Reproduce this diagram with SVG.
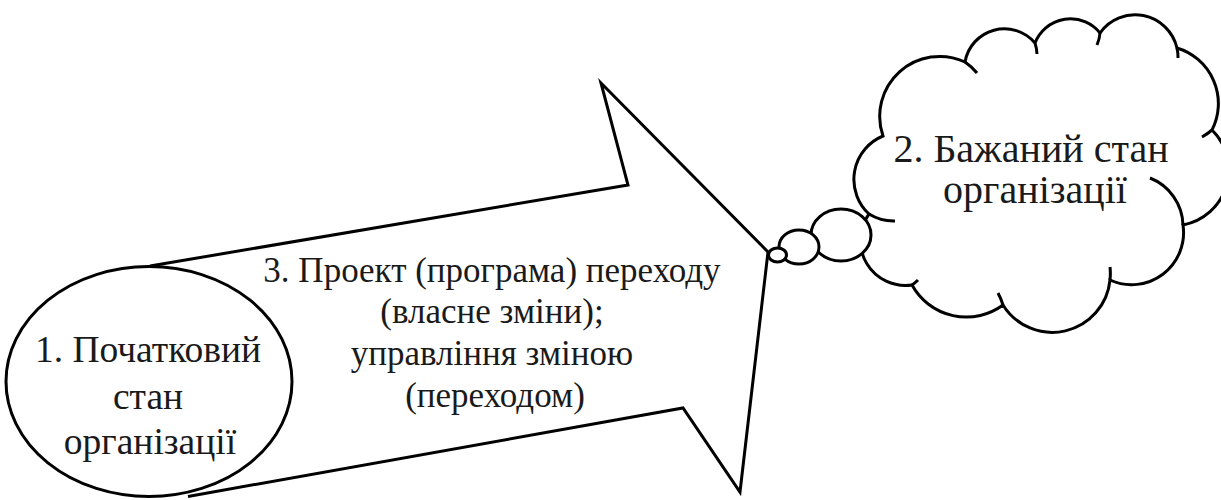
<svg xmlns="http://www.w3.org/2000/svg" width="1221" height="500" viewBox="0 0 1221 500">
<style>
.ln{fill:none;stroke:#000;stroke-width:3;stroke-linejoin:miter;stroke-linecap:butt}
.sh{fill:#fff;stroke:#000;stroke-width:3}
.t{fill:#1a1a1a;text-anchor:middle;font-family:"Liberation Serif","Times New Roman",Times,Tinos,"DejaVu Serif","Noto Serif",FreeSerif,Georgia,serif}
</style>
<rect width="1221" height="500" fill="#fff"/>
<g id="transition">
<polygon points="150,266 628,185 601,83 768,252 740,492 683,408 188,496.5 149,381" fill="#fff" stroke="none"/>
<polyline class="ln" points="150,266 628,185 601,83 768,252 740,492 683,408 188,496.5"/>
<text class="t" font-size="35"><tspan x="492" y="282">3. Проект (програма) переходу</tspan><tspan x="492" y="323">(власне зміни);</tspan><tspan x="492" y="365">управління зміною</tspan><tspan x="495" y="407">(переходом)</tspan></text>
</g>
<g id="start">
<ellipse class="sh" cx="149" cy="381.5" rx="143" ry="115"/>
<text class="t" font-size="37.5"><tspan x="148" y="362">1. Початковий</tspan><tspan x="148" y="409">стан</tspan><tspan x="150" y="454">організації</tspan></text>
</g>
<g id="goal">
<path class="sh" d="M869,214 A47,47 0 0 1 883,136 A60,60 0 0 1 965,62 A40,40 0 0 1 1035,43 A38,38 0 0 1 1100,33 A43,43 0 0 1 1177,48 A58,58 0 0 1 1212,130 A56,56 0 0 1 1183,225 A52,52 0 0 1 1110,280 A58,58 0 0 1 1003,305 A62,62 0 0 1 912,285 A45,45 0 0 1 869,214 Z"/>
<path class="ln" d="M869,214 A47,47 0 0 0 895,221 M965,62 A60,60 0 0 1 977,73 M1035,43 A40,40 0 0 1 1037,54 M1100,33 A38,38 0 0 1 1097,45 M1177,48 A43,43 0 0 1 1178,58 M1212,130 A58,58 0 0 1 1202,137 M1183,225 A52,52 0 0 0 1150,178 M1110,280 A58,58 0 0 0 1110,267 M1003,305 A62,62 0 0 0 998,293 M912,285 A45,45 0 0 0 918,280"/>
<text class="t" font-size="40"><tspan x="1031" y="162">2. Бажаний стан</tspan><tspan x="1035" y="203">організації</tspan></text>
</g>
<g id="connectors">
<ellipse class="sh" cx="841" cy="235" rx="30" ry="26"/>
<ellipse class="sh" cx="799" cy="247" rx="20" ry="17"/>
<ellipse class="sh" cx="777.5" cy="255" rx="9" ry="7"/>
</g>
</svg>
